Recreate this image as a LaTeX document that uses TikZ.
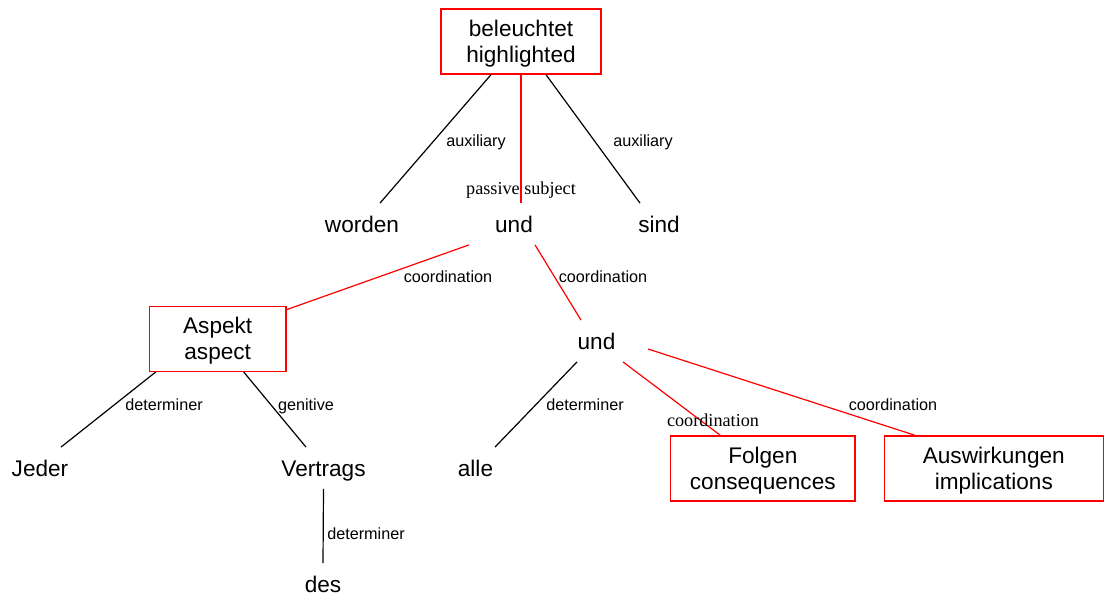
\documentclass[tikz,border=0pt]{standalone}
\usepackage{fontspec}
\setmainfont{Liberation Sans}
\newfontfamily\labserif{Liberation Serif}
\tikzset{
	word/.style={anchor=base,inner xsep=2pt,inner ysep=6.25pt,text height=8pt,text depth=0pt,font=\fontsize{11.3}{13}\selectfont},
	wordbox/.style={draw=red,line width=0.7pt,align=center,inner sep=0pt,text depth=0pt,minimum height=32.5pt,font=\fontsize{11.3}{13}\selectfont},
	dep/.style={black,line width=0.6pt},
	coord/.style={red,line width=0.6pt},
	rel/.style={anchor=base,inner sep=0pt,font=\fontsize{8.1}{9.7}\selectfont},
	relserif/.style={anchor=base,inner sep=0pt,font=\labserif\fontsize{9.1}{11}\selectfont}
}
\begin{document}
\begin{tikzpicture}[x=0.5pt,y=-0.5pt]
		\useasboundingbox (0,0) rectangle (1104,595);
		\node[wordbox,minimum width=80pt] (beleuchtet) at (521,41.5) {beleuchtet\\highlighted};
		\node[word] (worden) at (362,232) {worden};
		\node[word] (und) at (514,232) {und};
		\node[word] (sind) at (659,232) {sind};
		\node[wordbox,minimum width=68.3pt] (aspekt) at (217.7,338.8) {Aspekt\\aspect};
		\node[word] (undb) at (596.5,349) {und};
		\node[word] (jeder) at (40,476) {Jeder};
		\node[word] (vertrags) at (323.5,476) {Vertrags};
		\node[word] (alle) at (475.5,476) {alle};
		\node[wordbox,minimum width=92.2pt] (folgen) at (762.8,468.5) {Folgen\\consequences};
		\node[wordbox,minimum width=109.5pt] (auswirkungen) at (993.8,468.5) {Auswirkungen\\implications};
		\node[word] (des) at (323,592) {des};
		\draw[dep] ([xshift=-15pt]beleuchtet.south) -- ([xshift=9pt]worden.north);
		\draw[coord] (beleuchtet.south) -- (beleuchtet.south |- und.north);
		\draw[dep] ([xshift=12.5pt]beleuchtet.south) -- ([xshift=-9.5pt]sind.north);
		\draw[coord] ([xshift=-22.5pt]und.south) -- ([yshift=-2pt]aspekt.north east);
		\draw[coord] ([xshift=10.5pt]und.south) -- ([xshift=-7.75pt]undb.north);
		\draw[dep] ([xshift=-31pt]aspekt.south) -- ([xshift=10.5pt]jeder.north);
		\draw[dep] ([xshift=13pt]aspekt.south) -- ([xshift=-8.75pt]vertrags.north);
		\draw[dep] (vertrags.south) -- (des.north);
		\draw[dep] ([xshift=-9.75pt]undb.south) -- ([xshift=9.75pt]alle.north);
		\draw[coord] ([xshift=13.25pt]undb.south) -- ([xshift=-21.25pt]folgen.north);
		\draw[coord] ([xshift=25.75pt]undb.base) -- ([xshift=-39.4pt]auswirkungen.north);
		\node[rel] (auxl) at (476,146) {auxiliary};
		\node[relserif] (passsubj) at (521,194) {passive subject};
		\node[rel] (auxr) at (643,146) {auxiliary};
		\node[rel] (coordl) at (448,282) {coordination};
		\node[rel] (coordm) at (603,282) {coordination};
		\node[rel] (detjeder) at (164,410) {determiner};
		\node[rel] (gen) at (306,410) {genitive};
		\node[rel] (detalle) at (585,410) {determiner};
		\node[relserif] (coordfolgen) at (713,426) {coordination};
		\node[rel] (coordausw) at (893,410) {coordination};
		\node[rel] (detdes) at (366,539) {determiner};
	\end{tikzpicture}
\end{document}
